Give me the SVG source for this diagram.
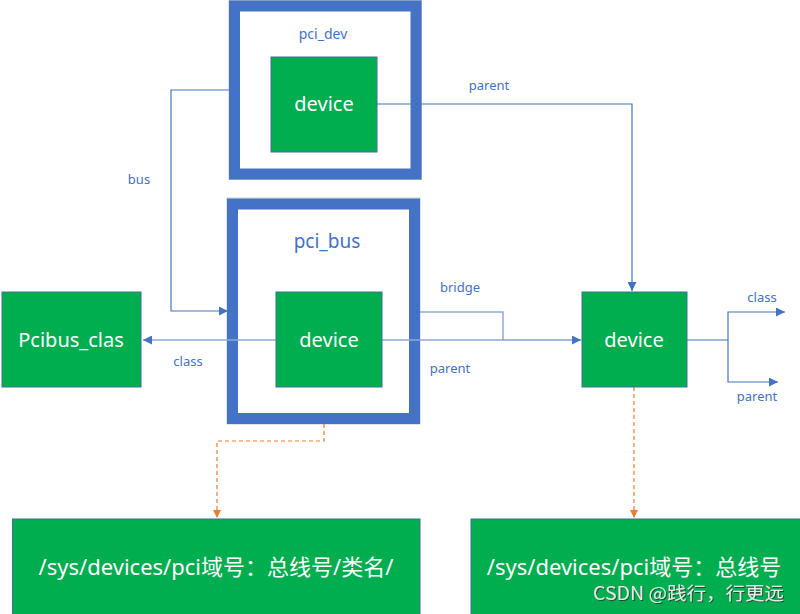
<svg xmlns="http://www.w3.org/2000/svg" width="800" height="614" viewBox="0 0 800 614">
<defs>
<style>
.frame{fill:#fff;stroke:#4472C4;stroke-width:11}
.frameedge{fill:none;stroke:#C9C9C9;stroke-width:1}
.green{fill:#00AD4F;stroke:#41719C;stroke-width:1}
.wt{fill:#fff;font-family:"Noto Sans","Open Sans",sans-serif;text-anchor:middle;font-size:20px}
.lbl{fill:#4472C4;font-family:"Noto Sans","Open Sans",sans-serif;font-size:13px;text-anchor:middle}
.cjk{fill:#fff;font-family:"Noto Sans","Noto Sans CJK SC",sans-serif;font-size:22px;text-anchor:middle}
.ln{fill:none;stroke:#4472C4;stroke-width:1.2}
.lt{fill:none;stroke:#8FAADC;stroke-width:1.5}
.dash{fill:none;stroke:#ED7D31;stroke-width:1.2;stroke-dasharray:4,3}
</style>
<marker id="ab" viewBox="0 0 10 10" refX="10" refY="5" markerWidth="10" markerHeight="9" markerUnits="userSpaceOnUse" orient="auto"><path d="M0,0 L10,5 L0,10 Z" fill="#4472C4"/></marker>
<marker id="ao" viewBox="0 0 10 10" refX="10" refY="5" markerWidth="8" markerHeight="8" markerUnits="userSpaceOnUse" orient="auto"><path d="M0,0 L10,5 L0,10 Z" fill="#ED7D31"/></marker>
<filter id="sh" x="-10%" y="-30%" width="120%" height="160%"><feDropShadow dx="1" dy="1" stdDeviation="0.6" flood-color="#333" flood-opacity="0.8"/></filter>
</defs>

<g id="pci_dev">
<rect class="frameedge" x="229" y="0.5" width="192.5" height="179"/>
<rect class="frame" x="234.5" y="6" width="181.5" height="168"/>
<text class="lbl" x="323" y="39" style="font-size:14px">pci_dev</text>
</g>

<g id="pci_bus">
<rect class="frameedge" x="227" y="198" width="193" height="226"/>
<rect class="frame" x="232.5" y="204" width="182" height="214.5"/>
<text class="lbl" x="327" y="248" style="font-size:19px">pci_bus</text>
</g>

<g id="connectors">
<path class="ln" d="M229,90 H171 V311 H228" marker-end="url(#ab)"/>
<path class="ln" d="M377,104 H632 V291" marker-end="url(#ab)"/>
<path class="lt" d="M276,340 H143" marker-end="url(#ab)"/>
<path class="lt" d="M382,340 H503"/>
<path class="lt" d="M420,312 H503 V340"/>
<path class="ln" stroke-width="2" d="M503,340 H581" marker-end="url(#ab)"/>
<path class="ln" stroke-width="2" d="M687,340 H728"/>
<path class="ln" d="M728,340 V312 H785" marker-end="url(#ab)"/>
<path class="ln" d="M728,340 V382 H778" marker-end="url(#ab)"/>
<path class="dash" d="M324,424 V441 H217 V518" marker-end="url(#ao)"/>
<path class="dash" d="M634,387 V518" marker-end="url(#ao)"/>
<text class="lbl" x="489" y="90">parent</text>
<text class="lbl" x="139" y="184">bus</text>
<text class="lbl" x="460" y="292">bridge</text>
<text class="lbl" x="450" y="373">parent</text>
<text class="lbl" x="188" y="366">class</text>
<text class="lbl" x="762" y="302">class</text>
<text class="lbl" x="757" y="401">parent</text>
</g>

<g id="device_dev">
<rect class="green" x="271" y="57" width="106" height="95"/>
<text class="wt" x="324" y="111">device</text>
</g>

<g id="device_bus">
<rect class="green" x="276" y="292" width="106" height="95"/>
<text class="wt" x="329" y="347">device</text>
</g>

<g id="pcibus_clas">
<rect class="green" x="2" y="292" width="139" height="95"/>
<text class="wt" x="71" y="347">Pcibus_clas</text>
</g>

<g id="device_right">
<rect class="green" x="582" y="292" width="105" height="95"/>
<text class="wt" x="634" y="347">device</text>
</g>

<g id="sys_class">
<rect class="green" x="12.5" y="519" width="407.5" height="97"/>
<text class="cjk" x="216" y="575">/sys/devices/pci域号：总线号/类名/</text>
</g>

<g id="sys_dev">
<rect class="green" x="471" y="519" width="330" height="97"/>
<text class="cjk" x="634" y="575">/sys/devices/pci域号：总线号</text>
<text x="593" y="600" font-family="'Noto Sans CJK SC','Noto Sans',sans-serif" font-size="18" fill="#e8e8e8" filter="url(#sh)" textLength="191" lengthAdjust="spacingAndGlyphs">CSDN @践行，行更远</text>
</g>
</svg>
